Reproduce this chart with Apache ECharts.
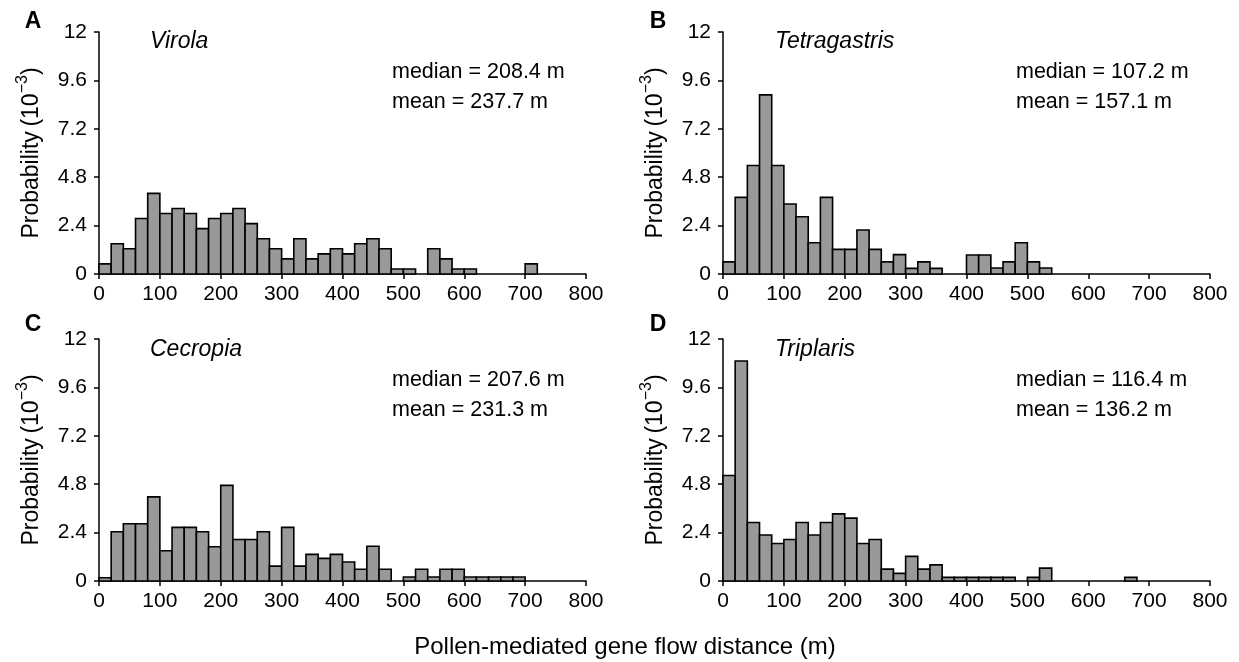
<!DOCTYPE html>
<html><head><meta charset="utf-8">
<script src="https://cdn.jsdelivr.net/npm/echarts@6/dist/echarts.min.js"></script>
<style>html,body{margin:0;padding:0;background:#fff}#c{width:1239px;height:662px}</style>
</head><body><div id="c"></div>
<script>
// bin edges (m)
const binStarts = [0,20,40,60,80,100,120,140,160,180,200,220,240,260,280,300,320,340,360,380,400,420,440,460,480,500,520,540,560,580,600,620,640,660,680,700,720,740,760,780];
const binWidth = 20;
const xTicks = [0,100,200,300,400,500,600,700,800];
const yTicks = [0,2.4,4.8,7.2,9.6,12];
const panelLetters = ['A','B','C','D'];
const speciesNames = ['Virola','Tetragastris','Cecropia','Triplaris'];
const medians = ['208.4','107.2','207.6','116.4'];
const means = ['237.7','157.1','231.3','136.2'];
// probability (10^-3) per 20 m bin
const virola = [0.5,1.5,1.25,2.75,4.0,3.0,3.25,3.0,2.25,2.75,3.0,3.25,2.5,1.75,1.25,0.75,1.75,0.75,1.0,1.25,1.0,1.5,1.75,1.25,0.25,0.25,0,1.25,0.75,0.25,0.25,0,0,0,0,0.5,0,0,0,0];
const tetragastris = [0.6,3.8,5.38,8.88,5.38,3.47,2.84,1.55,3.8,1.22,1.22,2.18,1.22,0.6,0.96,0.28,0.6,0.28,0,0,0.94,0.94,0.3,0.6,1.55,0.6,0.3,0,0,0,0,0,0,0,0,0,0,0,0,0];
const cecropia = [0.16,2.44,2.84,2.84,4.17,1.5,2.66,2.66,2.44,1.7,4.74,2.06,2.06,2.44,0.74,2.66,0.74,1.32,1.12,1.32,0.94,0.58,1.72,0.58,0,0.2,0.58,0.2,0.58,0.58,0.2,0.2,0.2,0.2,0.2,0,0,0,0,0];
const triplaris = [5.23,10.91,2.9,2.28,1.86,2.06,2.9,2.28,2.9,3.33,3.12,1.86,2.06,0.59,0.38,1.22,0.59,0.8,0.18,0.18,0.18,0.18,0.18,0.18,0,0.18,0.64,0,0,0,0,0,0,0.18,0,0,0,0,0,0];
const seriesValues = [virola, tetragastris, cecropia, triplaris];

const FONT = 'Liberation Sans, Arial, sans-serif';
const FS = 21;
const FS_BIG = 23;
const grids = [
  {left: 99, top: 32, width: 487, height: 242},
  {left: 723, top: 32, width: 487, height: 242},
  {left: 99, top: 339, width: 487, height: 242},
  {left: 723, top: 339, width: 487, height: 242}
];
const axisLine = {show: true, onZero: false, lineStyle: {color: '#000', width: 1.5}};
const axisTick = {show: true, inside: false, length: 5, lineStyle: {color: '#000', width: 1.5}};

const option = {
  animation: false,
  backgroundColor: '#fff',
  grid: grids.map(g => Object.assign({outerBoundsMode: 'none', containLabel: false}, g)),
  xAxis: grids.map((g, i) => ({
    type: 'value', gridIndex: i, min: xTicks[0], max: xTicks[xTicks.length-1], interval: 100,
    axisLine, axisTick, splitLine: {show: false},
    axisLabel: {color: '#000', fontFamily: FONT, fontSize: FS, margin: 10}
  })),
  yAxis: grids.map((g, i) => ({
    type: 'value', gridIndex: i, min: yTicks[0], max: yTicks[yTicks.length-1], interval: 2.4,
    axisLine, axisTick, splitLine: {show: false},
    axisLabel: {color: '#000', fontFamily: FONT, fontSize: FS, margin: 12,
      formatter: v => String(+v.toFixed(1))},
    name: '{a|Probability\u2009(10}{s|−3}{a|)}',
    nameLocation: 'middle', nameGap: 56, nameRotate: 90,
    nameTextStyle: {color: '#000', fontFamily: FONT, fontSize: FS_BIG,
      rich: {a: {fontFamily: FONT, fontSize: FS_BIG, color: '#000', lineHeight: 28, verticalAlign: 'bottom'},
             s: {fontFamily: FONT, fontSize: 16, color: '#000', lineHeight: 28, verticalAlign: 'top'}}}
  })),
  series: seriesValues.map((vals, i) => ({
    type: 'custom', xAxisIndex: i, yAxisIndex: i,
    data: binStarts.map((s, k) => [s, s + binWidth, vals[k]]),
    encode: {x: [0, 1], y: 2},
    renderItem: function (params, api) {
      const v = api.value(2);
      if (!v) return null;
      const p0 = api.coord([api.value(0), v]);
      const p1 = api.coord([api.value(1), 0]);
      return {type: 'rect',
        shape: {x: p0[0], y: p0[1], width: p1[0] - p0[0], height: p1[1] - p0[1]},
        style: {fill: '#999999', stroke: '#000', lineWidth: 1.6}};
    }
  })),
  graphic: []
};

const letterPos = [[33,22],[658,22],[33,325],[658,325]];
const titlePos = [[150,42],[775,42],[150,350],[775,350]];
const annPos = [[392,72],[1016,72],[392,380],[1016,380]];
for (let i = 0; i < 4; i++) {
  option.graphic.push({type: 'text', x: letterPos[i][0], y: letterPos[i][1],
    style: {text: panelLetters[i], font: 'bold ' + FS_BIG + 'px ' + FONT, fill: '#000', align: 'center', verticalAlign: 'middle'}});
  option.graphic.push({type: 'text', x: titlePos[i][0], y: titlePos[i][1],
    style: {text: speciesNames[i], font: 'italic ' + FS_BIG + 'px ' + FONT, fill: '#000', align: 'left', verticalAlign: 'middle'}});
  option.graphic.push({type: 'text', x: annPos[i][0], y: annPos[i][1],
    style: {text: 'median = ' + medians[i] + ' m', font: '21.5px ' + FONT, fill: '#000', align: 'left', verticalAlign: 'middle'}});
  option.graphic.push({type: 'text', x: annPos[i][0], y: annPos[i][1] + 30,
    style: {text: 'mean = ' + means[i] + ' m', font: '21.5px ' + FONT, fill: '#000', align: 'left', verticalAlign: 'middle'}});
}
option.graphic.push({type: 'text', x: 625, y: 647,
  style: {text: 'Pollen-mediated gene flow distance (m)', font: '24px ' + FONT, fill: '#000', align: 'center', verticalAlign: 'middle'}});

const chart = echarts.init(document.getElementById('c'), null, {renderer: 'canvas'});
chart.setOption(option);
</script></body></html>
